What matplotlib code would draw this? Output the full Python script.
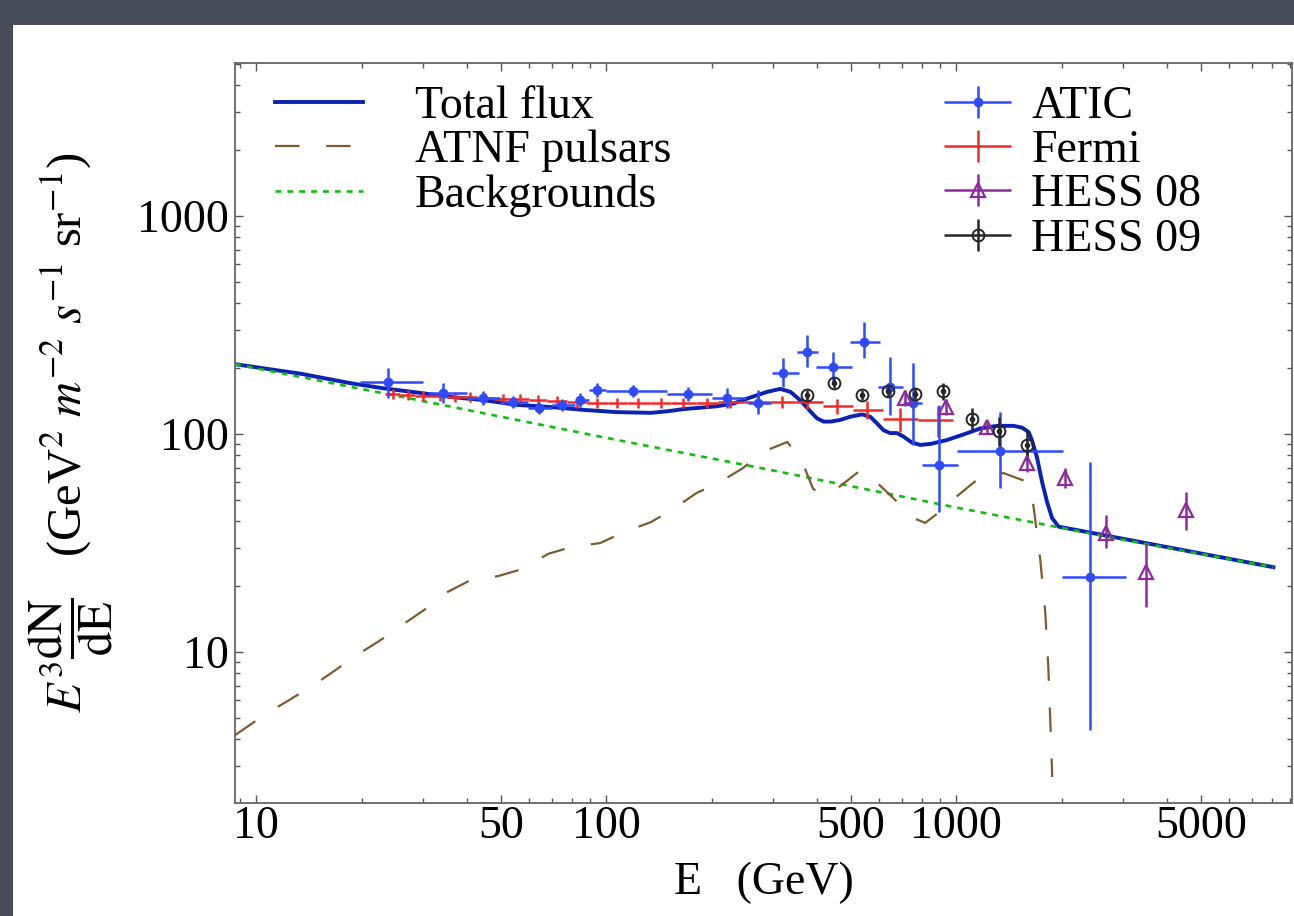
import numpy as np
import matplotlib.pyplot as plt
from matplotlib.patches import Rectangle
from matplotlib.legend_handler import HandlerErrorbar
from matplotlib.ticker import FixedLocator, NullFormatter

plt.rcParams['font.family'] = ['Liberation Serif', 'DejaVu Serif']
plt.rcParams['mathtext.fontset'] = 'stix'

# model curves: E (GeV) and E^3 dN/dE
bg_e = [8.71, 30.0, 100.0, 300.0, 1000.0, 3000.0, 8050.0]
bg_flux = [209.0, 141.5, 96.0, 68.0, 46.0, 32.7, 24.5]

tot_e = [8.71, 13.4, 18.6, 23.1, 28.8, 35.8, 44.6, 55.6, 69.2, 86.1, 107.0, 134.0,
         149.0, 166.0, 207.0, 231.0, 258.0, 288.0, 314.0, 336.0, 358.0, 383.0,
         400.0, 418.0, 437.0, 466.0, 498.0, 538.0, 568.0, 593.0, 620.0, 647.0,
         677.0, 707.0, 747.0, 789.0, 843.0, 940.0, 1050.0, 1172.0, 1307.0, 1456.0,
         1541.0, 1610.0, 1644.0, 1702.0, 1758.0, 1817.0, 1877.0, 1959.0, 8050.0]
tot_flux = [209.0, 189.0, 171.0, 162.0, 155.0, 148.0, 143.0, 136.0, 133.0, 129.0,
            126.0, 125.0, 127.0, 130.0, 134.0, 138.0, 147.0, 156.0, 161.0, 156.0,
            143.0, 127.0, 118.0, 114.0, 114.0, 116.0, 120.0, 123.0, 120.0, 112.0,
            104.0, 101.0, 101.0, 97.2, 91.3, 89.1, 90.0, 93.8, 99.6, 106.0, 109.0,
            109.0, 107.0, 102.0, 93.8, 77.6, 60.3, 48.8, 41.2, 37.6, 24.5]

psr_e = [8.71, 10.75, 12.3, 14.6, 16.7, 19.6, 22.4, 26.3, 30.2, 35.1, 40.6, 49.1,
         57.5, 68.3, 79.4, 96.1, 111.0, 134.0, 154.0, 181.0, 209.0, 246.0, 279.0,
         329.0, 363.0, 390.0, 417.0, 451.0, 525.0, 561.0, 595.0, 678.0, 754.0,
         815.0, 889.0, 1007.0, 1172.0, 1363.0, 1596.0, 1660.0, 1738.0, 1796.0,
         1832.0, 1857.0, 1880.0]
psr_flux = [4.16, 5.25, 5.96, 7.06, 8.18, 9.80, 11.2, 13.4, 15.6, 18.8, 21.2, 22.3,
            24.0, 28.2, 30.3, 31.6, 35.2, 39.4, 44.8, 53.6, 59.6, 69.8, 82.6,
            91.9, 74.4, 56.0, 52.5, 55.3, 67.0, 67.0, 59.6, 48.8, 41.2, 39.1,
            43.5, 52.0, 63.5, 66.2, 60.3, 47.2, 26.4, 15.1, 8.53, 4.72, 2.67]

# ATIC
atic_e = [23.8, 34.2, 44.6, 54.2, 64.4, 74.8, 84.3, 94.2, 119.0, 171.0, 222.0,
          272.0, 320.0, 375.0, 445.0, 546.0, 647.0, 754.0, 894.0, 1336.0, 2415.0]
atic_e_lo = [19.8, 31.0, 40.1, 49.8, 59.8, 70.0, 81.3, 89.5, 100.0, 149.0, 201.0,
             254.0, 297.0, 350.0, 398.0, 496.0, 596.0, 703.0, 796.0, 1005.0, 2004.0]
atic_e_hi = [30.0, 40.1, 49.8, 59.8, 70.0, 81.3, 89.5, 100.0, 149.0, 201.0, 250.0,
             295.0, 355.0, 402.0, 504.0, 607.0, 703.0, 800.0, 1011.0, 2013.0, 3050.0]
atic_flux = [173.0, 154.0, 146.0, 140.0, 132.0, 136.0, 143.0, 159.0, 157.0, 153.0,
             146.0, 139.0, 190.0, 238.0, 203.0, 264.0, 164.0, 139.0, 72.1, 83.6, 22.1]
atic_lo = [146.0, 139.0, 136.0, 131.0, 124.0, 128.0, 133.0, 148.0, 148.0, 142.0,
           132.0, 124.0, 164.0, 202.0, 173.0, 223.0, 122.0, 89.0, 43.9, 56.5, 4.4]
atic_hi = [201.0, 171.0, 158.0, 149.0, 140.0, 145.0, 154.0, 171.0, 168.0, 164.0,
           163.0, 159.0, 223.0, 284.0, 238.0, 326.0, 225.0, 212.0, 136.0, 126.0, 74.4]

# Fermi
fermi_edges = [23.4, 25.8, 28.5, 31.6, 35.1, 38.8, 42.8, 47.9, 53.5, 60.3, 67.8,
               77.4, 88.3, 101.0, 115.0, 133.0, 153.0, 180.0, 209.0, 248.0, 294.0,
               347.0, 417.0, 508.0, 618.0, 778.0, 980.0]
fermi_e = [24.6, 27.2, 30.0, 33.6, 37.0, 40.9, 45.1, 50.8, 56.8, 63.9, 72.4, 82.6,
           94.3, 107.0, 123.0, 143.0, 166.0, 194.0, 226.0, 272.0, 318.0, 375.0,
           457.0, 557.0, 692.0, 889.0]
fermi_flux = [153.0, 151.0, 149.0, 149.0, 148.0, 148.0, 146.0, 145.0, 145.0, 143.0,
              142.0, 140.0, 139.0, 139.0, 139.0, 139.0, 139.0, 139.0, 140.0, 140.0,
              140.0, 140.0, 134.0, 129.0, 117.0, 116.0]
fermi_err = [8, 8, 8, 8, 8, 8, 8, 8, 8, 8, 8, 8, 8, 8, 8, 8, 8, 8, 8, 9, 9, 10,
             11, 12, 15, 19]

# HESS 2008
h08_e = [714.0, 936.0, 1227.0, 1596.0, 2047.0, 2684.0, 3490.0, 4539.0]
h08_flux = [146.0, 133.0, 108.0, 73.6, 62.8, 35.2, 23.3, 44.8]
h08_lo = [134.0, 122.0, 100.0, 67.0, 56.5, 30.0, 16.1, 36.3]
h08_hi = [159.0, 145.0, 116.0, 82.7, 69.8, 42.5, 31.6, 54.3]

# HESS 2009
h09_e = [375.0, 448.0, 539.0, 639.0, 764.0, 918.0, 1112.0, 1327.0, 1596.0]
h09_flux = [151.0, 171.0, 151.0, 157.0, 153.0, 157.0, 117.0, 103.0, 89.1]
h09_lo = [143.0, 162.0, 143.0, 148.0, 144.0, 143.0, 104.0, 88.0, 76.0]
h09_hi = [159.0, 180.0, 159.0, 166.0, 162.0, 171.0, 132.0, 120.0, 104.0]

xticks = [10, 50, 100, 500, 1000, 5000]
yticks = [10, 100, 1000]

fig = plt.figure(figsize=(12.94, 9.16), dpi=100)
fig.patch.set_facecolor('#474b57')
fig.add_artist(Rectangle((13 / 1294, 0), 1, 891 / 916, transform=fig.transFigure,
                         facecolor='white', edgecolor='none', zorder=0))

ax = fig.add_axes([235 / 1294, 113 / 916, 1057 / 1294, 740 / 916])
ax.set_xscale('log')
ax.set_yscale('log')

l_tot, = ax.plot(tot_e, tot_flux, color='#0a22b4', lw=2.8, zorder=2)
l_bg, = ax.plot(bg_e, bg_flux, color='#0cc00c', lw=1.9, dashes=(2.2, 2.3), zorder=3)
l_psr, = ax.plot(psr_e, psr_flux, color='#7f5b30', lw=1.6, dashes=(11, 12), zorder=3)

atic_e = np.array(atic_e)
atic_flux = np.array(atic_flux)
e_atic = ax.errorbar(atic_e, atic_flux,
                     xerr=[atic_e - np.array(atic_e_lo), np.array(atic_e_hi) - atic_e],
                     yerr=[atic_flux - np.array(atic_lo), np.array(atic_hi) - atic_flux],
                     fmt='o', ms=6, color='#2e4bff', ecolor='#2e4bff',
                     elinewidth=1.8, capsize=0, zorder=5)

fermi_e = np.array(fermi_e)
e_fermi = ax.errorbar(fermi_e, fermi_flux,
                      xerr=[fermi_e - np.array(fermi_edges[:-1]),
                            np.array(fermi_edges[1:]) - fermi_e],
                      yerr=fermi_err, fmt='none', ecolor='#ee2b2b',
                      elinewidth=1.8, capsize=0, zorder=4)

h08_flux = np.array(h08_flux)
e_h08 = ax.errorbar(h08_e, h08_flux, xerr=np.zeros(len(h08_e)),
                    yerr=[h08_flux - np.array(h08_lo), np.array(h08_hi) - h08_flux],
                    fmt='^', ms=10, mfc='none', mec='#8e2a9c', mew=1.6,
                    ecolor='#8e2a9c', elinewidth=1.8, capsize=0, zorder=6)

h09_flux = np.array(h09_flux)
e_h09 = ax.errorbar(h09_e, h09_flux, xerr=np.zeros(len(h09_e)),
                    yerr=[h09_flux - np.array(h09_lo), np.array(h09_hi) - h09_flux],
                    fmt='o', ms=8.5, mfc='none', mec='#262626', mew=1.4,
                    ecolor='#262626', elinewidth=1.8, capsize=0, zorder=6)
ax.plot(h09_e, h09_flux, 'o', ms=3, color='#262626', zorder=7)

ax.set_xlim(8.7, 9100)
ax.set_ylim(2.03, 5030)

ax.xaxis.set_major_locator(FixedLocator(xticks))
ax.set_xticklabels([str(t) for t in xticks])
ax.xaxis.set_minor_locator(FixedLocator(
    [m * d for d in (1, 10, 100, 1000) for m in range(1, 10)
     if m * d not in xticks and 9 <= m * d <= 9000]))
ax.xaxis.set_minor_formatter(NullFormatter())
ax.yaxis.set_major_locator(FixedLocator(yticks))
ax.set_yticklabels([str(t) for t in yticks])
ax.yaxis.set_minor_locator(FixedLocator(
    [m * d for d in (1, 10, 100, 1000) for m in range(2, 10) if m * d <= 5000]))
ax.yaxis.set_minor_formatter(NullFormatter())

ax.tick_params(which='both', direction='in', top=True, right=True,
               color='#555555', width=1.0)
ax.tick_params(which='major', length=6, labelsize=33)
ax.tick_params(which='minor', length=3.5)
ax.tick_params(axis='x', which='major', pad=1.5)
ax.tick_params(axis='y', which='major', pad=4.5)
for sp in ax.spines.values():
    sp.set_color('#666666')
    sp.set_linewidth(1.3)

ax.set_xlabel('E   (GeV)', fontsize=33, labelpad=10)
ax.set_ylabel(r'$E^3\dfrac{\mathrm{dN}}{\mathrm{dE}}$   (GeV$^2$ $m^{-2}$ $s^{-1}$ sr$^{-1}$)',
              fontsize=35)
ax.yaxis.set_label_coords(-0.114, 0.5)

leg1 = ax.legend([l_tot, l_psr, l_bg], ['Total flux', 'ATNF pulsars', 'Backgrounds'],
                 loc='upper left', bbox_to_anchor=(0.038, 0.970), frameon=False,
                 fontsize=33, handlelength=1.92, handletextpad=1.13,
                 labelspacing=0.04, borderpad=0, borderaxespad=0)
ax.add_artist(leg1)
ax.legend([e_atic, e_fermi, e_h08, e_h09], ['ATIC', 'Fermi', 'HESS 08', 'HESS 09'],
          loc='upper left', bbox_to_anchor=(0.671, 0.970), frameon=False,
          fontsize=33, handlelength=1.46, handletextpad=0.44, numpoints=1,
          labelspacing=0.04, borderpad=0, borderaxespad=0,
          handler_map={type(e_atic): HandlerErrorbar(xerr_size=0.73, yerr_size=0.35)})

fig.savefig('out.png', dpi=100, facecolor=fig.get_facecolor())
